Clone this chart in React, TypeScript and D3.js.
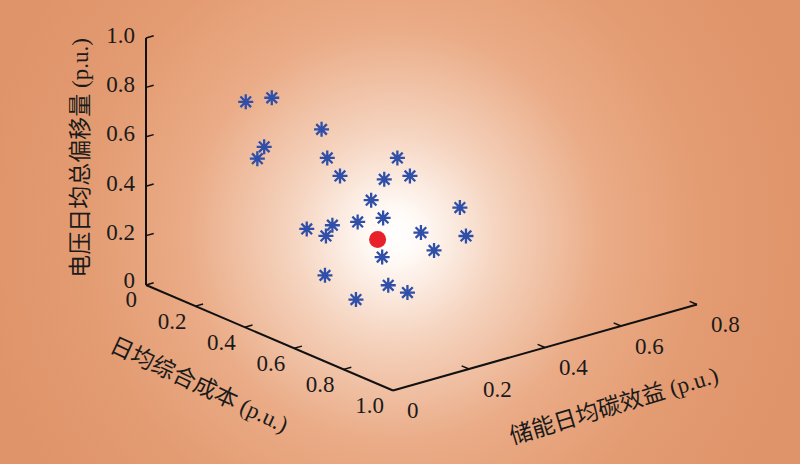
import React from "react";
import * as d3 from "d3";

// Data (cost, carbon benefit, voltage deviation), p.u.
const costValues = [0.15, 0.2, 0.3, 0.2, 0.2, 0.3, 0.35, 0.35, 0.4, 0.35, 0.45, 0.4, 0.5, 0.5, 0.45, 0.4, 0.45, 0.55, 0.5, 0.6, 0.65, 0.6, 0.75, 0.8, 0.75];
const carbonValues = [0.165, 0.201, 0.267, 0.181, 0.163, 0.282, 0.434, 0.283, 0.367, 0.467, 0.3, 0.566, 0.299, 0.232, 0.198, 0.163, 0.181, 0.366, 0.517, 0.368, 0.199, 0.081, 0.15, 0.168, 0.065];
const voltageValues = [0.734, 0.756, 0.642, 0.566, 0.526, 0.52, 0.475, 0.468, 0.439, 0.388, 0.405, 0.238, 0.355, 0.368, 0.348, 0.327, 0.312, 0.288, 0.187, 0.236, 0.304, 0.26, 0.254, 0.238, 0.233];
const bestSolution = { cost: 0.55, carbon: 0.252, voltage: 0.309 };

const voltageTicks = [0, 0.2, 0.4, 0.6, 0.8, 1.0];
const costTicks = [0, 0.2, 0.4, 0.6, 0.8, 1.0];
const carbonTicks = [0, 0.2, 0.4, 0.6, 0.8];

const voltageTitle = "电压日均总偏移量 (p.u.)";
const costTitle = "日均综合成本 (p.u.)";
const carbonTitle = "储能日均碳效益 (p.u.)";

const W = 800;
const H = 464;

const costScale = d3.scaleLinear().domain([0, 1]).range([0, 1]);
const carbonScale = d3.scaleLinear().domain([0, 0.8]).range([0, 1]);
const voltScale = d3.scaleLinear().domain([0, 1]).range([0, 1]);

const O: [number, number] = [146, 285];
const costVec: [number, number] = [247, 105.5];
const carbonVec: [number, number] = [304, -86];
const voltVec: [number, number] = [0, -247];

function proj(c: number, b: number, v: number): [number, number] {
  const a = costScale(c), bb = carbonScale(b), cc = voltScale(v);
  return [
    O[0] + a * costVec[0] + bb * carbonVec[0] + cc * voltVec[0],
    O[1] + a * costVec[1] + bb * carbonVec[1] + cc * voltVec[1],
  ];
}

function unit(v: [number, number]): [number, number] {
  const l = Math.hypot(v[0], v[1]);
  return [v[0] / l, v[1] / l];
}

const carbonDir = unit(carbonVec);
const costDir = unit(costVec);
const TL = 8;

const starPath = (r: number) => {
  const d = r * Math.SQRT1_2;
  return `M${-r},0L${r},0M0,${-r}L0,${r}M${-d},${-d}L${d},${d}M${-d},${d}L${d},${-d}`;
};

const serif = "'Times New Roman', 'Liberation Serif', 'Noto Sans CJK SC', serif";

export default function App() {
  const vAxisStart = proj(0, 0, 0);
  const vAxisEnd = proj(0, 0, 1);
  const cAxisEnd = proj(1, 0, 0);
  const bAxisEnd = proj(1, 0.8, 0);
  const line = d3.line();

  const costAngle = (Math.atan2(costVec[1], costVec[0]) * 180) / Math.PI;
  const carbonAngle = (Math.atan2(carbonVec[1], carbonVec[0]) * 180) / Math.PI;

  const best = proj(bestSolution.cost, bestSolution.carbon, bestSolution.voltage);

  return (
    <svg width={W} height={H} style={{ position: "absolute", left: 0, top: 0, display: "block" }}>
      <defs>
        <radialGradient id="bg" gradientUnits="userSpaceOnUse" cx={395} cy={235} r={420}>
          <stop offset="0" stopColor="#ffffff" />
          <stop offset="0.06" stopColor="#fffaf6" />
          <stop offset="0.25" stopColor="#f5d3be" />
          <stop offset="0.5" stopColor="#eaab86" />
          <stop offset="0.75" stopColor="#e39b71" />
          <stop offset="1" stopColor="#e0946a" />
        </radialGradient>
      </defs>
      <rect x={0} y={0} width={W} height={H} fill="url(#bg)" />

      {/* axes */}
      <g stroke="#111" strokeWidth={2} fill="none">
        <path d={line([vAxisStart, vAxisEnd]) || ""} />
        <path d={line([vAxisStart, cAxisEnd]) || ""} />
        <path d={line([cAxisEnd, bAxisEnd]) || ""} />
        {voltageTicks.map((t) => {
          const p = proj(0, 0, t);
          return <path key={"vt" + t} d={line([p, [p[0] + carbonDir[0] * TL, p[1] + carbonDir[1] * TL]]) || ""} strokeWidth={1.5} />;
        })}
        {costTicks.filter((t) => t > 0 && t < 1).map((t) => {
          const p = proj(t, 0, 0);
          return <path key={"ct" + t} d={line([p, [p[0] + carbonDir[0] * TL, p[1] + carbonDir[1] * TL]]) || ""} strokeWidth={1.5} />;
        })}
        {carbonTicks.filter((t) => t > 0).map((t) => {
          const p = proj(1, t, 0);
          return <path key={"bt" + t} d={line([p, [p[0] - costDir[0] * TL, p[1] - costDir[1] * TL]]) || ""} strokeWidth={1.5} />;
        })}
      </g>

      {/* tick labels */}
      <g fontFamily={serif} fontSize={23} fill="#1a1a1a">
        {voltageTicks.map((t) => {
          const p = proj(0, 0, t);
          return (
            <text key={"vl" + t} x={p[0] - 11} y={p[1] - (t === 0 ? 5 : 3)} textAnchor="end" dominantBaseline="central">
              {t === 0 ? "0" : d3.format(".1f")(t)}
            </text>
          );
        })}
        {costTicks.map((t) => {
          const p = proj(t, 0, 0);
          return (
            <text key={"cl" + t} x={p[0] - 9} y={p[1] + (t === 0 ? 14 : 15)} textAnchor="end" dominantBaseline="central">
              {t === 0 ? "0" : d3.format(".1f")(t)}
            </text>
          );
        })}
        {carbonTicks.map((t) => {
          const p = proj(1, t, 0);
          return (
            <text key={"bl" + t} x={p[0] + 14} y={p[1] + 20} textAnchor="start" dominantBaseline="central">
              {t === 0 ? "0" : d3.format(".1f")(t)}
            </text>
          );
        })}
      </g>

      {/* axis titles */}
      <g fontFamily={serif} fontSize={23} fill="#1a1a1a">
        <text transform={`translate(80,158) rotate(-90)`} textAnchor="middle" dominantBaseline="central">
          {voltageTitle}
        </text>
        <text transform={`translate(199,385) rotate(${costAngle + 2})`} textAnchor="middle" dominantBaseline="central">
          {costTitle}
        </text>
        <text transform={`translate(614,406) rotate(${carbonAngle - 1})`} textAnchor="middle" dominantBaseline="central">
          {carbonTitle}
        </text>
      </g>

      {/* points */}
      <g stroke="#2f4fa8" strokeWidth={2.3} fill="none" strokeLinecap="butt">
        {costValues.map((c, i) => {
          const p = proj(c, carbonValues[i], voltageValues[i]);
          return <path key={"s" + i} transform={`translate(${p[0]},${p[1]})`} d={starPath(7.5)} />;
        })}
      </g>
      <circle cx={best[0]} cy={best[1]} r={8.5} fill="#e8202a" />
    </svg>
  );
}
